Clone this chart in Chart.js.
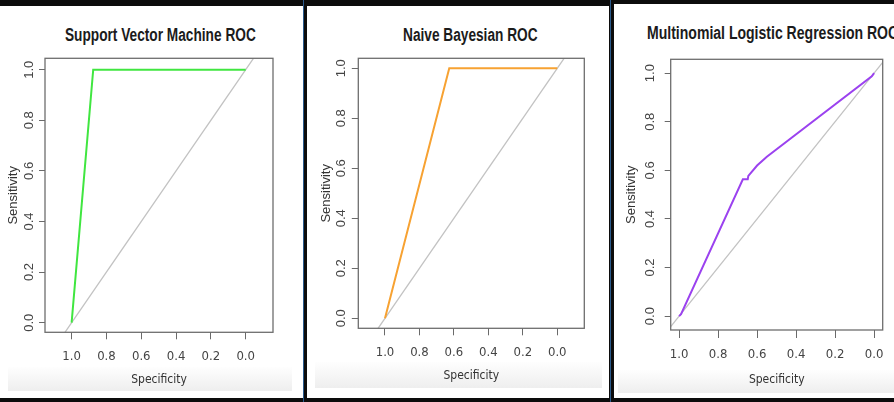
<!DOCTYPE html>
<html>
<head>
<meta charset="utf-8">
<script src="https://cdn.jsdelivr.net/npm/chart.js@4.4.1/dist/chart.umd.min.js"></script>
<style>
    html, body { margin: 0; padding: 0; }
    body { width: 894px; height: 402px; overflow: hidden; background: #0c0c0c; position: relative; }
    .panel { position: absolute; background: #fff; }
    .band { position: absolute; background: linear-gradient(to bottom, #fefefe, #eeeeee); }
    .sep { position: absolute; top: 0; width: 1px; height: 402px; background: #2a5a8c; }
    .box { position: absolute; top: 0; height: 398px; }
    .ttl { position: absolute; font: bold 18px "Liberation Sans", Arial, sans-serif; line-height: 18px;
           color: #1b1b1b; white-space: nowrap; transform: scaleX(0.76); transform-origin: 0 0; }
</style>
</head>
<body>
<div class="panel" style="left:0;top:6px;width:303px;height:392px"></div>
<div class="panel" style="left:307px;top:6px;width:302px;height:392px"></div>
<div class="panel" style="left:614px;top:4px;width:280px;height:394px"></div>
<div class="sep" style="left:303px"></div>
<div class="sep" style="left:610px"></div>
<div class="band" style="left:8px;top:367px;width:284px;height:24px"></div>
<div class="band" style="left:315px;top:362px;width:287px;height:26px"></div>
<div class="band" style="left:618px;top:370px;width:276px;height:23px"></div>

<div class="ttl" style="left:65px;top:26px">Support Vector Machine ROC</div>
<div class="ttl" style="left:403px;top:26px">Naive Bayesian ROC</div>
<div class="ttl" style="left:647px;top:24px;transform:scaleX(0.78)">Multinomial Logistic Regression ROC</div>

<div class="box" style="left:0;width:303px"><canvas id="svm"></canvas></div>
<div class="box" style="left:307px;width:302px"><canvas id="nb"></canvas></div>
<div class="box" style="left:614px;width:280px"><canvas id="mlr"></canvas></div>

<script>
// --- data ---
const xTicks = [1.0, 0.8, 0.6, 0.4, 0.2, 0.0];
const yTicks = [0.0, 0.2, 0.4, 0.6, 0.8, 1.0];

// chance line (sensitivity = 1 - specificity), clipped by the plot area
const diagSpec = [1.2, -0.2];
const diagSens = [-0.2, 1.2];

const svmSpec = [1.0, 0.876, 0.0];
const svmSens = [0.0, 1.0, 1.0];

const nbSpec = [1.0, 0.627, 0.0];
const nbSens = [0.0, 1.0, 1.0];

const mlrSpec = [1.0, 0.99, 0.673, 0.648, 0.645, 0.60, 0.55, 0.012, 0.0];
const mlrSens = [0.0, 0.008, 0.563, 0.563, 0.577, 0.62, 0.656, 0.987, 1.0];

const SANS = '"Liberation Sans", Arial, sans-serif';
const NARROW = '"Liberation Sans Narrow", "DejaVu Sans Condensed", "Liberation Sans", sans-serif';

const toPoints = (xs, ys) => xs.map((x, i) => ({ x: x, y: ys[i] }));

// frame round the plot area, like R's box()
const framePlugin = {
    id: 'frame',
    afterDraw(chart) {
        const { ctx, chartArea: a } = chart;
        ctx.save();
        ctx.strokeStyle = '#6e6e6e';
        ctx.lineWidth = 1.3;
        ctx.strokeRect(a.left, a.top, a.right - a.left, a.bottom - a.top);
        ctx.restore();
    }
};

function makeRoc(id, spec, sens, color, g) {
    new Chart(document.getElementById(id), {
        type: 'scatter',
        data: {
            datasets: [
                {
                    data: toPoints(spec, sens),
                    showLine: true,
                    borderColor: color,
                    borderWidth: 2,
                    pointRadius: 0,
                    tension: 0
                },
                {
                    data: toPoints(diagSpec, diagSens),
                    showLine: true,
                    borderColor: '#c2c2c2',
                    borderWidth: 1.3,
                    pointRadius: 0
                }
            ]
        },
        options: {
            responsive: true,
            maintainAspectRatio: false,
            animation: false,
            devicePixelRatio: 1,
            layout: { padding: { left: 0, top: g.top, right: g.right, bottom: 0 } },
            plugins: { legend: { display: false }, tooltip: { enabled: false } },
            scales: {
                x: {
                    type: 'linear',
                    reverse: true,
                    min: g.xMin,
                    max: g.xMax,
                    afterBuildTicks: s => { s.ticks = xTicks.map(v => ({ value: v })); },
                    afterFit: s => { s.height = g.xAxisH; },
                    border: { display: false },
                    grid: { display: true, drawOnChartArea: false, drawTicks: true, tickLength: g.xTl, color: '#6a6a6a' },
                    ticks: {
                        autoSkip: false,
                        maxRotation: 0,
                        padding: g.xPad,
                        color: '#444',
                        font: { family: NARROW, size: 13 },
                        callback: v => v.toFixed(1)
                    },
                    title: {
                        display: true,
                        text: 'Specificity',
                        color: '#333',
                        font: { family: NARROW, size: 12, lineHeight: 1 },
                        padding: { top: 0, bottom: g.xTitlePad }
                    }
                },
                y: {
                    type: 'linear',
                    min: g.yMin,
                    max: g.yMax,
                    afterBuildTicks: s => { s.ticks = yTicks.map(v => ({ value: v })); },
                    afterFit: s => { s.width = g.left; },
                    border: { display: false },
                    grid: { display: true, drawOnChartArea: false, drawTicks: true, tickLength: g.yTl, color: '#6a6a6a' },
                    ticks: {
                        autoSkip: false,
                        minRotation: 90,
                        maxRotation: 90,
                        crossAlign: 'center',
                        padding: g.yPad,
                        color: '#444',
                        font: { family: SANS, size: 13 },
                        callback: v => v.toFixed(1)
                    },
                    title: {
                        display: true,
                        text: 'Sensitivity',
                        color: '#333',
                        font: { family: SANS, size: 13, lineHeight: 1 },
                        padding: { top: g.yTitlePad, bottom: 0 }
                    }
                }
            }
        },
        plugins: [framePlugin]
    });
}

makeRoc('svm', svmSpec, svmSens, '#40e640', {
    xMin: -0.157, xMax: 1.153, yMin: -0.038, yMax: 1.045,
    left: 45, top: 58.3, right: 30, xAxisH: 65.7,
    yTl: 6, yPad: 1, yTitlePad: 6.5, xTl: 7, xPad: 10, xTitlePad: 12
});

makeRoc('nb', nbSpec, nbSens, '#f7a232', {
    xMin: -0.157, xMax: 1.155, yMin: -0.04, yMax: 1.04,
    left: 51.3, top: 58.3, right: 24.7, xAxisH: 69.7,
    yTl: 6.5, yPad: 1, yTitlePad: 13.2, xTl: 7, xPad: 9.6, xTitlePad: 16
});

makeRoc('mlr', mlrSpec, mlrSens, '#9b42ef', {
    xMin: -0.044, xMax: 1.043, yMin: -0.057, yMax: 1.057,
    left: 56.7, top: 59.3, right: 11.3, xAxisH: 68,
    yTl: 6, yPad: 5.7, yTitlePad: 11.2, xTl: 8, xPad: 9.2, xTitlePad: 12
});
</script>
</body>
</html>
